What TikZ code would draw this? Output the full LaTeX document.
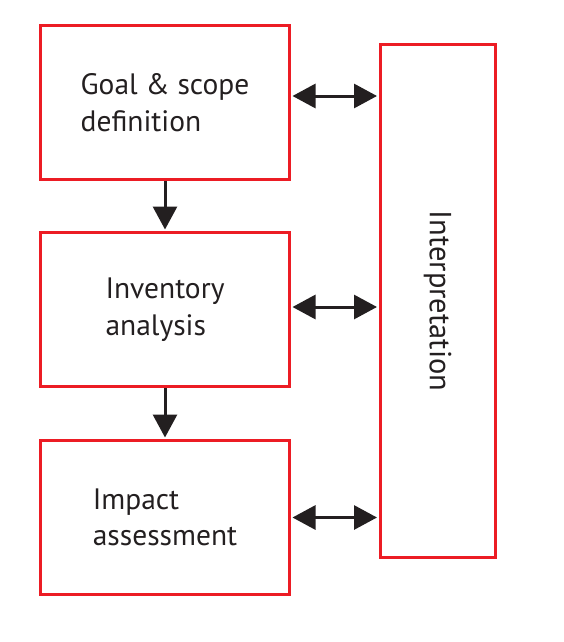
\documentclass[tikz,border=0pt]{standalone}
\usepackage{fontspec}
\setmainfont{PT Sans}
\usetikzlibrary{arrows.meta}
\definecolor{boxred}{HTML}{EC1C24}
\definecolor{arrowblack}{HTML}{231F20}
\tikzset{
  stagebox/.style={draw=boxred, line width=3pt, minimum width=249pt, minimum height=154pt, inner sep=0pt, align=left, font=\fontsize{29.5}{36.5}\selectfont, text=arrowblack},
  flowarrow/.style={line width=3pt, draw=arrowblack, -{Triangle[length=23pt,width=24pt]}, shorten >=1.5pt},
  bothways/.style={line width=3pt, draw=arrowblack, {Triangle[length=23pt,width=24pt]}-{Triangle[length=23pt,width=24pt]}, shorten >=1.5pt, shorten <=1.5pt}
}
\begin{document}
\begin{tikzpicture}[x=1pt,y=-1pt]
\useasboundingbox (0,0) rectangle (564,642);
\node[stagebox] (goal) at (165,102.5) {Goal \& scope\\definition};
\node[stagebox] (inv) at (165,309.5) {Inventory\\analysis};
\node[stagebox] (imp) at (165,517.5) {Impact\\assessment};
\node[stagebox, minimum width=115pt, minimum height=512pt] (interp) at (437.5,301) {};
\node[rotate=-90, font=\fontsize{30.5}{36}\selectfont, text=arrowblack] (interptext) at (interp.center) {Interpretation};
\coordinate (ga) at ([yshift=6.5pt]goal.east);
\coordinate (ia) at ([yshift=2.5pt]inv.east);
\coordinate (ma) at (imp.east);
\draw[flowarrow] (goal.south) -- (inv.north);
\draw[flowarrow] (inv.south) -- (imp.north);
\draw[bothways] (ga) -- (interp.west |- ga);
\draw[bothways] (ia) -- (interp.west |- ia);
\draw[bothways] (ma) -- (interp.west |- ma);
\end{tikzpicture}
\end{document}
